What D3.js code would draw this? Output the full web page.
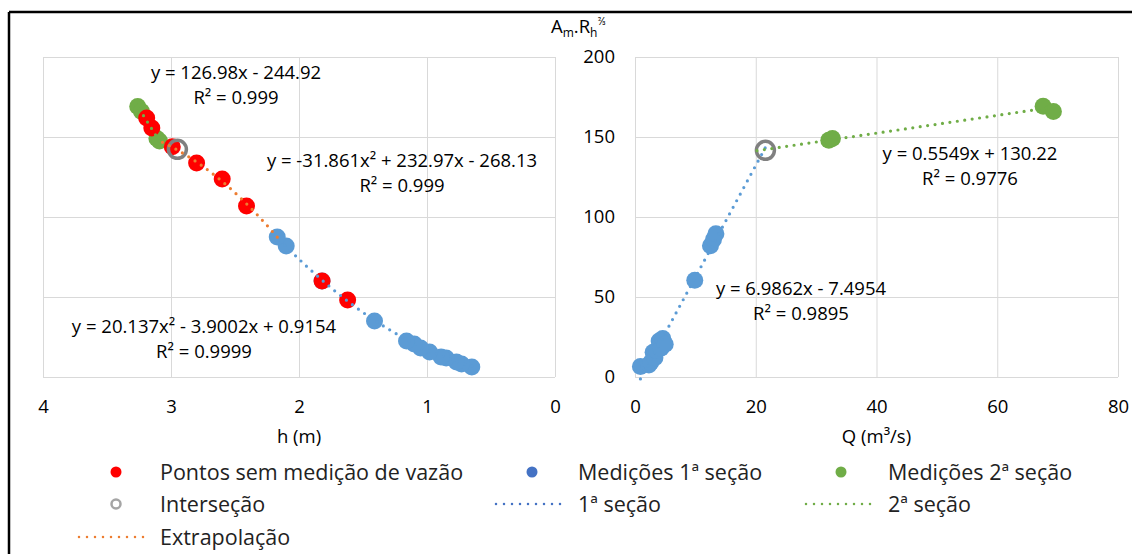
<!DOCTYPE html>
<html>
<head>
<meta charset="utf-8">
<script src="https://cdn.jsdelivr.net/npm/d3@7"></script>
<style>
  body { margin: 0; background: #fff; }
  svg { display: block; font-family: "Open Sans", Lato, sans-serif; }
</style>
</head>
<body>
<svg id="chart"></svg>
<script>
// left panel: h (m) vs Am.Rh^2/3
const hBlue = [0.65, 0.73, 0.77, 0.85, 0.89, 0.98, 1.05, 1.10, 1.16, 1.41, 1.82, 2.10, 2.17];
const aBlueL = [6.3, 8.1, 9.4, 11.9, 12.5, 15.6, 18.1, 20.6, 22.5, 35.0, 60.0, 81.9, 87.5];
const hGreen = [3.26, 3.23, 3.11, 3.09];
const aGreenL = [169.0, 166.0, 149.0, 147.5];
const hRed = [3.19, 3.15, 2.99, 2.80, 2.60, 2.41, 1.82, 1.62];
const aRed = [161.9, 155.6, 143.9, 133.8, 123.8, 106.9, 60.0, 48.1];
const hInter = [2.95];
const aInterL = [142.3];

// right panel: Q (m3/s) vs Am.Rh^2/3
const qBlue = [0.9, 2.3, 2.6, 3.0, 3.3, 3.6, 4.0, 4.3, 4.6, 5.0, 9.9, 12.5, 13.0, 13.4];
const aBlueR = [6.5, 7.5, 9.0, 15.5, 12.0, 16.5, 22.5, 18.0, 24.0, 20.5, 60.5, 82.0, 86.0, 89.5];
const qGreen = [32.1, 32.7, 67.6, 69.3];
const aGreenR = [147.9, 149.0, 169.2, 166.0];
const qInter = [21.6];
const aInterR = [141.7];

// trendline coefficients [a, b, c] for a*x^2 + b*x + c, and the x span drawn
const fit1L = [20.137, -3.9002, 0.9154], span1L = [0.65, 2.17];
const fitExt = [-31.861, 232.97, -268.13], spanExt = [2.17, 3.09];
const fit2L = [0, 126.98, -244.92], span2L = [3.09, 3.26];
const fit1R = [0, 6.9862, -7.4954], span1R = [0.9, 21.9];
const fit2R = [0, 0.5549, 130.22], span2R = [20.2, 69.3];

const hTicks = [4, 3, 2, 1, 0];
const qTicks = [0, 20, 40, 60, 80];
const aTicks = [0, 50, 100, 150, 200];

const legendItems = [
  { label: 'Pontos sem medição de vazão', type: 'dot', color: '#ff0000' },
  { label: 'Medições 1ª seção', type: 'dot', color: '#4472c4' },
  { label: 'Medições 2ª seção', type: 'dot', color: '#70ad47' },
  { label: 'Interseção', type: 'ring', color: '#a5a5a5' },
  { label: '1ª seção', type: 'line', color: '#4472c4' },
  { label: '2ª seção', type: 'line', color: '#70ad47' },
  { label: 'Extrapolação', type: 'line', color: '#ed7d31' }
];

const width = 1132, height = 554;
const fs = 18.5; // chart text size
const svg = d3.select('#chart').attr('width', width).attr('height', height);

const blue = '#5b9bd5', green = '#70ad47', red = '#ff0000', orange = '#ed7d31', gray = '#808080';

const xL = d3.scaleLinear().domain([4, 0]).range([43, 555]);
const xR = d3.scaleLinear().domain([0, 80]).range([635, 1118]);
const y = d3.scaleLinear().domain([0, 200]).range([377, 57]);

// outer frame (only top and left edges are visible)
svg.append('line').attr('x1', 9).attr('x2', width).attr('y1', 12).attr('y2', 12)
  .attr('stroke', '#000').attr('stroke-width', 2.5);
svg.append('line').attr('x1', 9).attr('x2', 9).attr('y1', 12).attr('y2', height)
  .attr('stroke', '#000').attr('stroke-width', 2.5);

function drawPanel(x, xTicks, showY) {
  const g = svg.append('g');
  const [x0, x1] = x.range();

  // grid
  g.append('g').attr('transform', `translate(0,${y.range()[0]})`)
    .call(d3.axisBottom(x).tickValues(xTicks).tickSize(-(y.range()[0] - y.range()[1])).tickFormat(''))
    .call(s => s.select('.domain').remove())
    .call(s => s.selectAll('line').attr('stroke', '#d9d9d9'));
  g.append('g').attr('transform', `translate(${Math.min(x0, x1)},0)`)
    .call(d3.axisLeft(y).tickValues(aTicks).tickSize(-Math.abs(x1 - x0)).tickFormat(''))
    .call(s => s.select('.domain').remove())
    .call(s => s.selectAll('line').attr('stroke', '#d9d9d9'));

  // tick labels
  g.append('g').attr('transform', `translate(0,${y.range()[0]})`)
    .call(d3.axisBottom(x).tickValues(xTicks).tickSize(0).tickPadding(23).tickFormat(d3.format('d')))
    .call(s => s.select('.domain').remove())
    .call(s => s.selectAll('text').attr('font-size', fs).attr('fill', '#000').attr('font-family', 'Open Sans'));

  if (showY) {
    g.append('g').attr('transform', `translate(${Math.min(x0, x1)},0)`)
      .call(d3.axisLeft(y).tickValues(aTicks).tickSize(0).tickPadding(20).tickFormat(d3.format('d')))
      .call(s => s.select('.domain').remove())
      .call(s => s.selectAll('text').attr('font-size', fs).attr('fill', '#000').attr('font-family', 'Open Sans'));
  }
  return g;
}

const gL = drawPanel(xL, hTicks, false);
const gR = drawPanel(xR, qTicks, true);

function dots(g, x, xs, ys, color, r) {
  g.append('g').selectAll('circle')
    .data(xs.map((d, i) => [d, ys[i]]))
    .join('circle')
    .attr('cx', d => x(d[0]))
    .attr('cy', d => y(d[1]))
    .attr('r', r)
    .attr('fill', color);
}

function ring(g, x, xs, ys) {
  g.append('g').selectAll('circle')
    .data(xs.map((d, i) => [d, ys[i]]))
    .join('circle')
    .attr('cx', d => x(d[0]))
    .attr('cy', d => y(d[1]))
    .attr('r', 9)
    .attr('fill', 'none')
    .attr('stroke', gray)
    .attr('stroke-width', 3.5);
}

function trend(g, x, coef, span, color) {
  const pts = d3.range(0, 61).map(i => {
    const t = span[0] + (span[1] - span[0]) * i / 60;
    return [t, coef[0] * t * t + coef[1] * t + coef[2]];
  });
  g.append('path')
    .attr('d', d3.line().x(d => x(d[0])).y(d => y(d[1]))(pts))
    .attr('fill', 'none')
    .attr('stroke', color)
    .attr('stroke-width', 3.2)
    .attr('stroke-linecap', 'round')
    .attr('stroke-dasharray', '0 7.5');
}

// left panel marks
dots(gL, xL, hBlue, aBlueL, blue, 8.5);
dots(gL, xL, hGreen, aGreenL, green, 8.5);
dots(gL, xL, hRed, aRed, red, 8.5);
ring(gL, xL, hInter, aInterL);
trend(gL, xL, fit1L, span1L, blue);
trend(gL, xL, fitExt, spanExt, orange);
trend(gL, xL, fit2L, span2L, green);

// right panel marks
dots(gR, xR, qBlue, aBlueR, blue, 8.5);
dots(gR, xR, qGreen, aGreenR, green, 8.5);
ring(gR, xR, qInter, aInterR);
trend(gR, xR, fit1R, span1R, blue);
trend(gR, xR, fit2R, span2R, green);

// trendline equations
const eqs = [
  { x: 236, y: 73, lines: ['y = 126.98x - 244.92', 'R² = 0.999'] },
  { x: 402, y: 161, lines: ['y = -31.861x² + 232.97x - 268.13', 'R² = 0.999'] },
  { x: 204, y: 327, lines: ['y = 20.137x² - 3.9002x + 0.9154', 'R² = 0.9999'] },
  { x: 970, y: 154, lines: ['y = 0.5549x + 130.22', 'R² = 0.9776'] },
  { x: 801, y: 289, lines: ['y = 6.9862x - 7.4954', 'R² = 0.9895'] }
];
eqs.forEach(e => {
  e.lines.forEach((t, i) => {
    svg.append('text')
      .attr('x', e.x).attr('y', e.y + i * 25)
      .attr('dy', '0.35em')
      .attr('text-anchor', 'middle')
      .attr('font-size', fs)
      .text(t);
  });
});

// axis titles
svg.append('text').attr('x', (xL.range()[0] + xL.range()[1]) / 2).attr('y', 437).attr('dy', '0.35em')
  .attr('text-anchor', 'middle').attr('font-size', fs).text('h (m)');
svg.append('text').attr('x', (xR.range()[0] + xR.range()[1]) / 2).attr('y', 437).attr('dy', '0.35em')
  .attr('text-anchor', 'middle').attr('font-size', fs).text('Q (m³/s)');

const yTitle = svg.append('text').attr('x', 551).attr('y', 33).attr('font-size', fs);
yTitle.append('tspan').text('A');
yTitle.append('tspan').attr('font-size', 12).attr('dy', 4).text('m');
yTitle.append('tspan').attr('dy', -4).text('.R');
yTitle.append('tspan').attr('font-size', 12).attr('dy', 4).text('h');
yTitle.append('tspan').attr('font-size', 11).attr('dy', -12).text('⅔');

// legend
const colX = [{ m: 116, l0: 79, l1: 151, t: 160 }, { m: 532, l0: 496, l1: 568, t: 578 }, { m: 841, l0: 806, l1: 876, t: 888 }];
const rowY = [472, 504, 537];
legendItems.forEach((item, i) => {
  const c = colX[i % 3], ry = rowY[Math.floor(i / 3)];
  const g = svg.append('g');
  if (item.type === 'dot') {
    g.append('circle').attr('cx', c.m).attr('cy', ry).attr('r', 5.5).attr('fill', item.color);
  } else if (item.type === 'ring') {
    g.append('circle').attr('cx', c.m).attr('cy', ry).attr('r', 4.5)
      .attr('fill', 'none').attr('stroke', item.color).attr('stroke-width', 2.5);
  } else {
    g.append('line').attr('x1', c.l0).attr('x2', c.l1).attr('y1', ry).attr('y2', ry)
      .attr('stroke', item.color).attr('stroke-width', 2.5)
      .attr('stroke-linecap', 'round').attr('stroke-dasharray', '0 8');
  }
  g.append('text').attr('x', c.t).attr('y', ry).attr('dy', '0.35em')
    .attr('font-size', 21.5).attr('fill', '#222').text(item.label);
});
</script>
</body>
</html>
